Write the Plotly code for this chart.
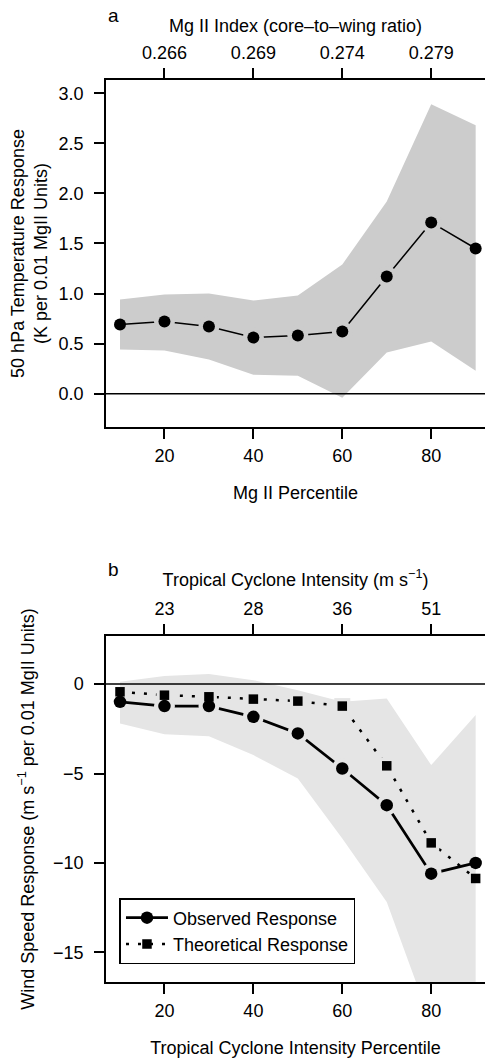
import plotly.graph_objects as go

# ---- data ----
pct = [10, 20, 30, 40, 50, 60, 70, 80, 90]

# panel a: 50 hPa temperature response
temp_resp = [0.69, 0.72, 0.67, 0.56, 0.58, 0.62, 1.17, 1.71, 1.45]
temp_upper = [0.94, 0.99, 1.00, 0.93, 0.98, 1.29, 1.92, 2.89, 2.68]
temp_lower = [0.44, 0.43, 0.34, 0.19, 0.18, -0.04, 0.41, 0.52, 0.23]
mg_ticks = [20, 40, 60, 80]
mg_index_labels = ["0.266", "0.269", "0.274", "0.279"]

# panel b: wind speed response
wind_obs = [-0.99, -1.23, -1.23, -1.83, -2.76, -4.72, -6.77, -10.6, -10.0]
wind_theory = [-0.43, -0.62, -0.71, -0.84, -0.95, -1.23, -4.57, -8.88, -10.87]
wind_upper = [0.13, 0.45, 0.56, 0.22, -0.34, -0.99, -0.80, -4.53, -1.73]
wind_lower = [-2.20, -2.80, -2.91, -3.97, -5.28, -8.64, -12.18, -19.0, -20.0]
tc_ticks = [20, 40, 60, 80]
tc_intensity_labels = ["23", "28", "36", "51"]

# ---- layout geometry ----
W, H = 485, 1059
L, R, T, B = 105.5, 0, 80, 77
FONT = "Liberation Sans, Arial, Helvetica, sans-serif"
FS = 18
BAND_A = "#cccccc"
BAND_B = "#e5e5e5"


def px_x(px):
    return (px - L) / (W - L - R)


def px_y(py):
    return (H - B - py) / (H - T - B)


def ring_colors(color, n):
    # gap rings only on inner points (end points sit on the band's edge)
    return ["rgba(0,0,0,0)"] + [color] * (n - 2) + ["rgba(0,0,0,0)"]


fig = go.Figure()

# panel a
fig.add_trace(go.Scatter(x=pct + pct[::-1], y=temp_upper + temp_lower[::-1],
                         fill="toself", fillcolor=BAND_A, line=dict(width=0),
                         mode="lines", showlegend=False, hoverinfo="skip",
                         xaxis="x", yaxis="y"))
fig.add_trace(go.Scatter(x=pct, y=temp_resp, mode="lines",
                         line=dict(color="black", width=1.5),
                         showlegend=False, xaxis="x", yaxis="y"))
fig.add_trace(go.Scatter(x=pct, y=temp_resp, mode="markers",
                         marker=dict(color=ring_colors(BAND_A, len(pct)), size=21),
                         showlegend=False, hoverinfo="skip", xaxis="x", yaxis="y"))
fig.add_trace(go.Scatter(x=pct, y=temp_resp, mode="markers",
                         marker=dict(color="black", size=12),
                         showlegend=False, xaxis="x", yaxis="y"))
# keeps the top axis of panel a alive
fig.add_trace(go.Scatter(x=pct, y=[None] * len(pct), mode="markers",
                         showlegend=False, hoverinfo="skip", xaxis="x2", yaxis="y"))

# panel b
fig.add_trace(go.Scatter(x=pct + pct[::-1], y=wind_upper + wind_lower[::-1],
                         fill="toself", fillcolor=BAND_B, line=dict(width=0),
                         mode="lines", showlegend=False, hoverinfo="skip",
                         xaxis="x3", yaxis="y2"))
fig.add_trace(go.Scatter(x=pct, y=wind_theory, mode="lines",
                         line=dict(color="black", width=2.5, dash="3px,9px"),
                         showlegend=False, xaxis="x3", yaxis="y2"))
fig.add_trace(go.Scatter(x=pct, y=wind_obs, mode="lines",
                         line=dict(color="black", width=2.7),
                         showlegend=False, xaxis="x3", yaxis="y2"))
fig.add_trace(go.Scatter(x=pct, y=wind_theory, mode="markers",
                         marker=dict(color=ring_colors(BAND_B, len(pct)), size=16,
                                     symbol="square"),
                         showlegend=False, hoverinfo="skip", xaxis="x3", yaxis="y2"))
fig.add_trace(go.Scatter(x=pct, y=wind_obs, mode="markers",
                         marker=dict(color=ring_colors(BAND_B, len(pct)), size=21),
                         showlegend=False, hoverinfo="skip", xaxis="x3", yaxis="y2"))
fig.add_trace(go.Scatter(x=pct, y=wind_theory, mode="markers",
                         marker=dict(color="black", size=9.5, symbol="square"),
                         showlegend=False, xaxis="x3", yaxis="y2"))
fig.add_trace(go.Scatter(x=pct, y=wind_obs, mode="markers",
                         marker=dict(color="black", size=12.5),
                         showlegend=False, xaxis="x3", yaxis="y2"))
fig.add_trace(go.Scatter(x=pct, y=[None] * len(pct), mode="markers",
                         showlegend=False, hoverinfo="skip", xaxis="x4", yaxis="y2"))

# legend entries
fig.add_trace(go.Scatter(x=[None], y=[None], mode="lines+markers", name="Observed Response",
                         line=dict(color="black", width=2.7),
                         marker=dict(color="black", size=12.5),
                         xaxis="x3", yaxis="y2"))
fig.add_trace(go.Scatter(x=[None], y=[None], mode="lines+markers", name="Theoretical Response",
                         line=dict(color="black", width=2.5, dash="3px,9px"),
                         marker=dict(color="black", size=9.5, symbol="square"),
                         xaxis="x3", yaxis="y2"))

axis_common = dict(showline=True, linecolor="black", linewidth=1.5, ticks="outside",
                   ticklen=10, tickwidth=1.5, tickcolor="black", showgrid=False,
                   zeroline=False, automargin=False, ticklabelstandoff=7,
                   tickfont=dict(size=FS, color="black"),
                   title_font=dict(size=FS, color="black"))
xrange = [6.85, 92.1]
dom_a = [px_y(427), px_y(80)]
dom_b = [px_y(982), px_y(636)]

fig.update_layout(
    width=W, height=H,
    margin=dict(l=L, r=R, t=T, b=B),
    paper_bgcolor="white", plot_bgcolor="white",
    font=dict(family=FONT, size=FS, color="black"),
    xaxis=dict(axis_common, domain=[0, 1], anchor="y", range=xrange,
               tickvals=mg_ticks, ticklabelstandoff=2,
               title=dict(text="Mg II Percentile", standoff=21)),
    xaxis2=dict(axis_common, overlaying="x", side="top", anchor="y", range=xrange,
                tickvals=mg_ticks, ticktext=mg_index_labels, ticklabelstandoff=2,
                title=dict(text="Mg II Index (core\u2013to\u2013wing ratio)", standoff=6)),
    yaxis=dict(axis_common, domain=dom_a, anchor="x", range=[-0.333, 3.133],
               tickvals=[0, 0.5, 1, 1.5, 2, 2.5, 3], tickformat=".1f",
               title=dict(text="50 hPa Temperature Response<br>(K per 0.01 MgII Units)",
                          standoff=6)),
    xaxis3=dict(axis_common, domain=[0, 1], anchor="y2", range=xrange,
                tickvals=tc_ticks, ticklabelstandoff=2,
                title=dict(text="Tropical Cyclone Intensity Percentile", standoff=21)),
    xaxis4=dict(axis_common, overlaying="x3", side="top", anchor="y2", range=xrange,
                tickvals=tc_ticks, ticktext=tc_intensity_labels, ticklabelstandoff=2,
                title=dict(text="Tropical Cyclone Intensity (m s<sup>\u22121</sup>)", standoff=8)),
    yaxis2=dict(axis_common, domain=dom_b, anchor="x3", range=[-16.66, 2.69],
                tickvals=[0, -5, -10, -15],
                title=dict(text="Wind Speed Response (m s<sup>\u22121</sup> per 0.01 MgII Units)",
                           standoff=14)),
    legend=dict(x=px_x(119), y=px_y(898), xanchor="left", yanchor="top",
                bgcolor="white", bordercolor="black", borderwidth=1.5,
                font=dict(size=FS, color="black"), tracegroupgap=0, itemwidth=42),
    shapes=[
        dict(type="line", xref="x domain", x0=0, x1=1, yref="y", y0=0, y1=0,
             line=dict(color="black", width=1.5), layer="above"),
        dict(type="line", xref="x3 domain", x0=0, x1=1, yref="y2", y0=0, y1=0,
             line=dict(color="black", width=1.5), layer="above"),
    ],
    annotations=[
        dict(text="a", x=px_x(106), y=px_y(15), xref="paper", yref="paper",
             xanchor="left", yanchor="middle", showarrow=False, font=dict(size=19)),
        dict(text="b", x=px_x(106), y=px_y(569), xref="paper", yref="paper",
             xanchor="left", yanchor="middle", showarrow=False, font=dict(size=19)),
    ],
)

# page body has an 8px default margin; drop it so the figure sits at the window corner
fig.write_html("out.html", config={"displayModeBar": False},
               post_script="document.body.style.margin = '0';")
